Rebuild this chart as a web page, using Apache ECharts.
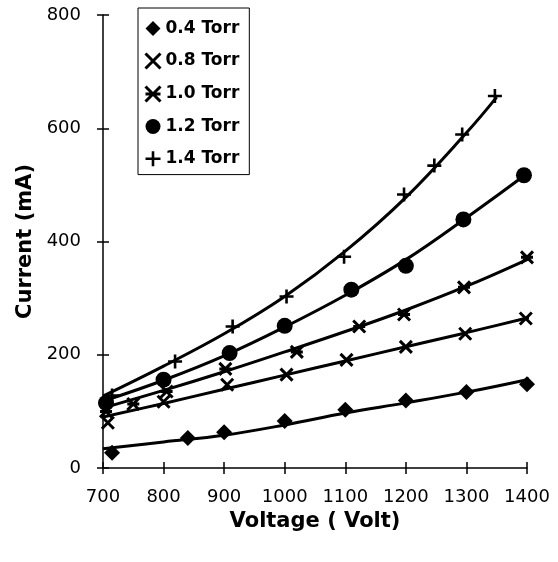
<!DOCTYPE html>
<html>
<head>
<meta charset="utf-8">
<script src="https://cdn.jsdelivr.net/npm/echarts@6/dist/echarts.min.js"></script>
<style>
  html, body { margin: 0; padding: 0; background: #fff; }
  #chart { width: 558px; height: 562px; }
</style>
</head>
<body>
<div id="chart"></div>
<script>
// Measured discharge current versus applied voltage at five gas pressures
const seriesNames = ['0.4 Torr', '0.8 Torr', '1.0 Torr', '1.2 Torr', '1.4 Torr'];

const volt04 = [715, 840, 900, 1000, 1100, 1200, 1300, 1400];
const curr04 = [27, 53, 63, 83, 103, 119, 134, 148];

const volt08 = [708, 800, 905, 1003, 1102, 1200, 1298, 1398];
const curr08 = [80, 117, 147, 165, 191, 214, 237, 264];

const volt10 = [705, 750, 805, 902, 1020, 1123, 1197, 1296, 1400];
const curr10 = [100, 113, 135, 175, 205, 250, 271, 319, 372];

const volt12 = [705, 800, 909, 1000, 1110, 1200, 1295, 1395];
const curr12 = [115, 156, 203, 251, 315, 357, 439, 517];

const volt14 = [715, 819, 914, 1003, 1098, 1197, 1247, 1293, 1347];
const curr14 = [128, 188, 250, 303, 373, 483, 534, 589, 657];

// Fitted trend curves
const fitVolt = [700, 800, 900, 1000, 1100, 1200, 1300, 1400, 1412];
const fit04 = [34, 46, 58, 76, 97, 115, 134, 156, 160];
const fit08 = [90, 114, 139, 164, 189, 214, 239, 265, 268];
const fit10 = [106, 137, 170, 205, 241, 279, 321, 368, 375];
const fit12 = [118, 155, 198, 249, 305, 368, 442, 520, 532];
const fitVolt14 = [700, 800, 900, 1000, 1100, 1200, 1300, 1350];
const fit14 = [127, 180, 237, 303, 383, 478, 592, 655];

const xTicks = { min: 700, max: 1400, interval: 100 };
const yTicks = { min: 0, max: 800, interval: 200 };

const X_PATH = 'path://M0,0L10,10M10,0L0,10';
const AST_PATH = 'path://M0,0L10,10M10,0L0,10M0,5L10,5';
const PLUS_PATH = 'path://M5,0L5,10M0,5L10,5';

const markers = [
  { symbol: 'diamond', size: 16, stroke: 0 },
  { symbol: X_PATH, size: 12, stroke: 3 },
  { symbol: AST_PATH, size: 12, stroke: 3 },
  { symbol: 'circle', size: 16, stroke: 0 },
  { symbol: PLUS_PATH, size: 14, stroke: 2.6 }
];

const pointSets = [
  [volt04, curr04], [volt08, curr08], [volt10, curr10], [volt12, curr12], [volt14, curr14]
];
const fitSets = [
  [fitVolt, fit04], [fitVolt, fit08], [fitVolt, fit10], [fitVolt, fit12], [fitVolt14, fit14]
];

const zip = (xs, ys) => xs.map((x, i) => [x, ys[i]]);

const series = [];
fitSets.forEach(([xs, ys]) => {
  series.push({
    type: 'line',
    data: zip(xs, ys),
    smooth: 0.4,
    showSymbol: false,
    symbol: 'none',
    clip: false,
    silent: true,
    lineStyle: { color: '#000', width: 3 },
    z: 2
  });
});
pointSets.forEach(([xs, ys], i) => {
  const m = markers[i];
  series.push({
    name: seriesNames[i],
    type: 'scatter',
    data: zip(xs, ys),
    symbol: m.symbol,
    symbolSize: m.size,
    itemStyle: {
      color: '#000',
      borderColor: '#000',
      borderWidth: m.stroke,
      opacity: 1
    },
    z: 3
  });
});

const font = 'DejaVu Sans';
const chart = echarts.init(document.getElementById('chart'), null, { renderer: 'canvas' });
chart.setOption({
  animation: false,
  backgroundColor: '#fff',
  grid: { left: 103, right: 31, top: 15, bottom: 94, containLabel: false },
  legend: {
    orient: 'vertical',
    left: 138,
    top: 8,
    padding: [12, 10, 7, 6],
    borderColor: '#000',
    borderWidth: 1,
    itemWidth: 15,
    itemHeight: 15,
    itemGap: 15,
    selectedMode: false,
    data: seriesNames.map((n, i) => ({
      name: n,
      icon: markers[i].symbol,
      itemStyle: { color: '#000', borderColor: '#000', borderWidth: markers[i].stroke }
    })),
    textStyle: { fontFamily: font, fontWeight: 'bold', fontSize: 17, color: '#000' }
  },
  xAxis: [
    {
      type: 'value',
      min: xTicks.min, max: xTicks.max, interval: xTicks.interval,
      name: 'Voltage ( Volt)',
      nameLocation: 'middle',
      nameGap: 40,
      nameTextStyle: { fontFamily: font, fontWeight: 'bold', fontSize: 21, color: '#000' },
      axisLine: { show: true, lineStyle: { color: '#000', width: 1.5 } },
      axisTick: { show: true, inside: false, length: 6, lineStyle: { color: '#000', width: 1.5 } },
      axisLabel: { fontFamily: font, fontSize: 18, color: '#000', margin: 20, formatter: v => String(v) },
      splitLine: { show: false }
    },
    {
      type: 'value',
      position: 'bottom',
      min: xTicks.min, max: xTicks.max, interval: xTicks.interval,
      axisLine: { show: false },
      axisTick: { show: true, inside: true, length: 6, lineStyle: { color: '#000', width: 1.5 } },
      axisLabel: { show: false },
      splitLine: { show: false }
    }
  ],
  yAxis: [
    {
      type: 'value',
      min: yTicks.min, max: yTicks.max, interval: yTicks.interval,
      name: 'Current (mA)',
      nameLocation: 'middle',
      nameGap: 62,
      nameTextStyle: { fontFamily: font, fontWeight: 'bold', fontSize: 21, color: '#000' },
      axisLine: { show: true, lineStyle: { color: '#000', width: 1.5 } },
      axisTick: { show: true, inside: false, length: 6, lineStyle: { color: '#000', width: 1.5 } },
      axisLabel: { fontFamily: font, fontSize: 18, color: '#000', margin: 22, formatter: v => String(v) },
      splitLine: { show: false }
    },
    {
      type: 'value',
      position: 'left',
      min: yTicks.min, max: yTicks.max, interval: yTicks.interval,
      axisLine: { show: false },
      axisTick: { show: true, inside: true, length: 6, lineStyle: { color: '#000', width: 1.5 } },
      axisLabel: { show: false },
      splitLine: { show: false }
    }
  ],
  series: series
});
</script>
</body>
</html>
